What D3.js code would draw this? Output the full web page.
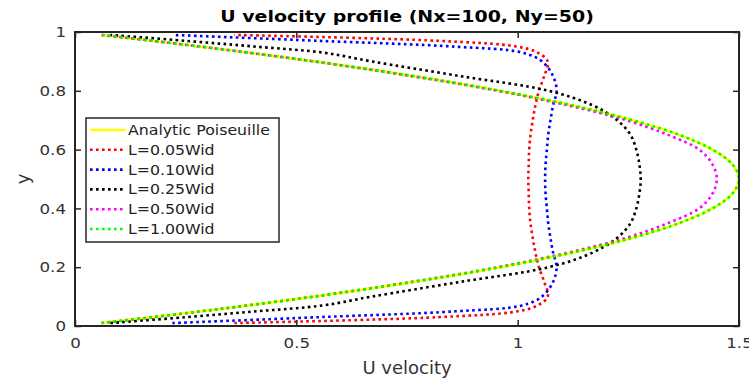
<!DOCTYPE html>
<html lang="en">
<head>
    <meta charset="utf-8">
    <title>U velocity profile</title>
    <script src="https://cdn.jsdelivr.net/npm/d3@7"></script>
    <style>
        body { margin: 0; background: #fff; }
        text { font-family: "DejaVu Sans", sans-serif; fill: #333; }
        .frame { fill: none; stroke: #262626; stroke-width: 2px; }
        .tickmark { stroke: #262626; stroke-width: 1.5px; }
        .prof { fill: none; stroke-width: 2.6px; }
    </style>
</head>
<body>
<script type="text/javascript">

    var w = 749;
    var h = 379;

    // y positions (cell centres)
    var yPos = [0.01, 0.03, 0.05, 0.07, 0.10, 0.15, 0.20, 0.25, 0.30, 0.35, 0.40, 0.45, 0.50,
                0.55, 0.60, 0.65, 0.70, 0.75, 0.80, 0.85, 0.90, 0.93, 0.95, 0.97, 0.99];

    // u velocity for each series
    var analytic = [0.059, 0.175, 0.285, 0.391, 0.54, 0.765, 0.96, 1.125, 1.26, 1.365, 1.44, 1.485, 1.5,
                    1.485, 1.44, 1.365, 1.26, 1.125, 0.96, 0.765, 0.54, 0.391, 0.285, 0.175, 0.059];
    var l005 = [0.36, 0.82, 1.00, 1.045, 1.068, 1.06, 1.048, 1.04, 1.034, 1.029, 1.026, 1.025, 1.024,
                1.025, 1.026, 1.029, 1.034, 1.04, 1.048, 1.06, 1.068, 1.045, 1.00, 0.82, 0.36];
    var l010 = [0.22, 0.55, 0.86, 1.01, 1.055, 1.08, 1.088, 1.08, 1.074, 1.069, 1.066, 1.063, 1.062,
                1.063, 1.066, 1.069, 1.074, 1.08, 1.088, 1.08, 1.055, 1.01, 0.86, 0.55, 0.22];
    var l025 = [0.08, 0.25, 0.41, 0.56, 0.67, 0.87, 1.07, 1.17, 1.225, 1.255, 1.268, 1.275, 1.278,
                1.275, 1.268, 1.255, 1.225, 1.17, 1.07, 0.87, 0.67, 0.56, 0.41, 0.25, 0.08];
    var l050 = [0.06, 0.175, 0.285, 0.39, 0.54, 0.76, 0.955, 1.115, 1.245, 1.34, 1.41, 1.44, 1.45,
                1.44, 1.41, 1.34, 1.245, 1.115, 0.955, 0.76, 0.54, 0.39, 0.285, 0.175, 0.06];
    var l100 = [0.06, 0.175, 0.285, 0.39, 0.54, 0.765, 0.96, 1.125, 1.26, 1.365, 1.44, 1.485, 1.5,
                1.485, 1.44, 1.365, 1.26, 1.125, 0.96, 0.765, 0.54, 0.39, 0.285, 0.175, 0.06];

    var names = ["Analytic Poiseuille", "L=0.05Wid", "L=0.10Wid", "L=0.25Wid", "L=0.50Wid", "L=1.00Wid"];
    var colors = ["#ffff00", "#ff0000", "#0000ff", "#000000", "#ff00ff", "#00ff00"];
    var seriesVals = [analytic, l005, l010, l025, l050, l100];

    var xTicks = [0, 0.5, 1, 1.5];
    var yTicks = [0, 0.2, 0.4, 0.6, 0.8, 1];

    var margin = {left: 75, right: 10, top: 32, bottom: 53};
    var stretch = 1.15;   // text in the picture is a bit wide

    var svg = d3.select("body")
            .append("svg")
            .attr("width", w)
            .attr("height", h);

    var x = d3.scaleLinear().domain([0, 1.5]).range([margin.left, w - margin.right]);
    var y = d3.scaleLinear().domain([0, 1]).range([h - margin.bottom, margin.top]);

    // curves
    var line = d3.line()
            .x(function (d) { return x(d[0]); })
            .y(function (d) { return y(d[1]); })
            .curve(d3.curveCatmullRom.alpha(0.5));

    svg.append("clipPath").attr("id", "clip")
            .append("rect")
            .attr("x", x(0)).attr("y", y(1))
            .attr("width", x(1.5) - x(0)).attr("height", y(0) - y(1));

    var plot = svg.append("g").attr("clip-path", "url(#clip)");

    seriesVals.forEach(function (vals, i) {
        var pts = vals.map(function (u, j) { return [u, yPos[j]]; });
        plot.append("path")
                .attr("class", "prof")
                .attr("d", line(pts))
                .attr("stroke", colors[i])
                .attr("stroke-dasharray", i === 0 ? null : "2.6,3.4");
    });

    // axes: bottom/left with labels, top/right ticks only, all inward
    var axB = d3.axisBottom(x).tickValues(xTicks).tickSize(-6).tickPadding(12)
            .tickFormat(d3.format("~g"));
    var axT = d3.axisTop(x).tickValues(xTicks).tickSize(-6).tickFormat("");
    var axL = d3.axisLeft(y).tickValues(yTicks).tickSize(-6).tickPadding(9)
            .tickFormat(d3.format("~g"));
    var axR = d3.axisRight(y).tickValues(yTicks).tickSize(-6).tickFormat("");

    [[axB, "translate(0," + y(0) + ")"], [axT, "translate(0," + y(1) + ")"],
     [axL, "translate(" + x(0) + ",0)"], [axR, "translate(" + x(1.5) + ",0)"]].forEach(function (a) {
        var g = svg.append("g").attr("transform", a[1]).call(a[0]);
        g.select(".domain").remove();
        g.selectAll(".tick line").attr("class", "tickmark");
        g.selectAll(".tick text").each(function () {
            var t = d3.select(this);
            var tx = +t.attr("x") || 0, ty = +t.attr("y") || 0;
            t.attr("x", 0).attr("y", 0)
                    .attr("transform", "translate(" + tx + "," + ty + ") scale(" + stretch + ",1)")
                    .attr("fill", "#333")
                    .style("font-size", "14.5px")
                    .style("font-family", "DejaVu Sans, sans-serif");
        });
    });

    svg.append("rect")
            .attr("class", "frame")
            .attr("x", x(0)).attr("y", y(1))
            .attr("width", x(1.5) - x(0)).attr("height", y(0) - y(1));

    // titles
    svg.append("text")
            .attr("transform", "translate(" + ((x(0) + x(1.5)) / 2) + ",22) scale(" + stretch + ",1)")
            .attr("text-anchor", "middle")
            .style("font-size", "16.5px").style("font-weight", "bold")
            .style("fill", "#000")
            .text("U velocity profile (Nx=100, Ny=50)");

    svg.append("text")
            .attr("x", (x(0) + x(1.5)) / 2).attr("y", 374)
            .attr("text-anchor", "middle")
            .style("font-size", "18px")
            .text("U velocity");

    svg.append("text")
            .attr("transform", "translate(29," + (y(0.5)) + ") rotate(-90)")
            .attr("text-anchor", "middle")
            .style("font-size", "18px")
            .text("y");

    // legend
    var leg = svg.append("g").attr("transform", "translate(86,118)");
    leg.append("rect")
            .attr("width", 193).attr("height", 124)
            .attr("fill", "#fff").attr("stroke", "#262626").attr("stroke-width", 1.5);

    names.forEach(function (n, i) {
        var ly = 12 + i * 19.8;
        leg.append("line")
                .attr("x1", 4).attr("x2", 40).attr("y1", ly).attr("y2", ly)
                .attr("stroke", colors[i]).attr("stroke-width", 2.6)
                .attr("stroke-dasharray", i === 0 ? null : "2.6,3.4");
        leg.append("text")
                .attr("transform", "translate(42," + (ly + 5) + ") scale(" + stretch + ",1)")
                .style("font-size", "13.7px")
                .style("fill", "#222")
                .text(n);
    });

</script>
</body>
</html>
